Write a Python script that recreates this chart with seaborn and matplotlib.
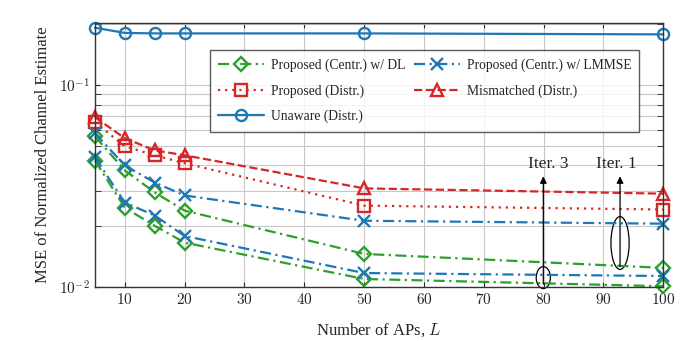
import numpy as np
import pandas as pd
import matplotlib
matplotlib.use('Agg')
import matplotlib.pyplot as plt
import seaborn as sns
from matplotlib.patches import Ellipse

# data
L = [5, 10, 15, 20, 50, 100]
dl_iter1 = [0.0557, 0.0378, 0.0294, 0.0239, 0.0146, 0.01245]
dl_iter3 = [0.0423, 0.0247, 0.0201, 0.0166, 0.01097, 0.0101]
lmmse_iter1 = [0.0577, 0.0400, 0.0329, 0.0284, 0.0213, 0.0206]
lmmse_iter3 = [0.0438, 0.0262, 0.0226, 0.0179, 0.01174, 0.01135]
distr = [0.0655, 0.0497, 0.0449, 0.0410, 0.0253, 0.0242]
mismatched = [0.0693, 0.0545, 0.0475, 0.0449, 0.0308, 0.0290]
unaware = [0.192, 0.181, 0.180, 0.180, 0.180, 0.178]

sns.set_style('ticks')
plt.rcParams['font.family'] = ['Liberation Serif', 'DejaVu Serif']
plt.rcParams['mathtext.fontset'] = 'cm'

green = '#2ca02c'
blue = '#1f77b4'
red = '#d62728'

fig, ax = plt.subplots(figsize=(6.88, 3.41), dpi=100)
fig.subplots_adjust(left=0.138, right=0.964, top=0.933, bottom=0.158)

dashdot = (0, (5, 2, 1, 2))


def draw(y, color, ls, marker, label=None, ms=8):
    sns.lineplot(x=L, y=y, color=color, linestyle=ls, marker=marker, ax=ax,
                 lw=1.6, markersize=ms, markerfacecolor='none',
                 markeredgecolor=color, markeredgewidth=1.7, clip_on=False,
                 label=label, legend=label is not None)


draw(dl_iter1, green, dashdot, 'D', 'Proposed (Centr.) w/ DL', ms=7)
draw(distr, red, (0, (1, 2.2)), 's', 'Proposed (Distr.)')
draw(unaware, blue, '-', 'o', 'Unaware (Distr.)')
draw(lmmse_iter1, blue, dashdot, 'x', 'Proposed (Centr.) w/ LMMSE')
draw(mismatched, red, '--', '^', 'Mismatched (Distr.)')
draw(dl_iter3, green, dashdot, 'D', ms=7)
draw(lmmse_iter3, blue, dashdot, 'x')

ax.set_yscale('log')
ax.set_xlim(5, 100)
ax.set_ylim(0.01, 0.203)
ax.set_xticks([10, 20, 30, 40, 50, 60, 70, 80, 90, 100])
ax.set_xticklabels([r'$%d$' % t for t in range(10, 101, 10)])
ax.set_yticks([0.01, 0.1])
ax.set_yticklabels([r'$10^{-2}$', r'$10^{-1}$'])
ax.grid(True, which='major', color='#c8c8c8', lw=0.8)
ax.grid(True, which='minor', axis='y', color='#c8c8c8', lw=0.8)
ax.tick_params(which='both', direction='in', top=True, right=True, labelsize=11)
ax.tick_params(which='minor', length=4)
for s in ax.spines.values():
    s.set_linewidth(1.0)
    s.set_color('#333333')

ax.set_xlabel(r'Number of APs, $L$', fontsize=12, labelpad=10)
ax.set_ylabel('MSE of Normalized Channel Estimate', fontsize=12, labelpad=6)

leg = ax.legend(ncol=2, loc='upper right', bbox_to_anchor=(0.97, 0.922),
                fontsize=9.8, frameon=True, fancybox=False, edgecolor='#333333',
                handlelength=3.4, columnspacing=0.6, handletextpad=0.5,
                borderpad=0.6, labelspacing=0.9)
leg.get_frame().set_linewidth(1.0)

# iteration annotations
ax.add_patch(Ellipse((0.789, 0.036), 0.025, 0.083, transform=ax.transAxes,
                     fill=False, ec='black', lw=0.9, clip_on=False))
ax.add_patch(Ellipse((0.924, 0.167), 0.032, 0.20, transform=ax.transAxes,
                     fill=False, ec='black', lw=0.9))
ax.annotate('', xy=(0.789, 0.43), xytext=(0.789, 0.0), xycoords='axes fraction',
            arrowprops=dict(arrowstyle='-|>', color='black', lw=0.9, mutation_scale=10))
ax.annotate('', xy=(0.924, 0.43), xytext=(0.924, 0.067), xycoords='axes fraction',
            arrowprops=dict(arrowstyle='-|>', color='black', lw=0.9, mutation_scale=10))
ax.text(0.797, 0.435, 'Iter. 3', transform=ax.transAxes, ha='center', va='bottom', fontsize=12.5)
ax.text(0.918, 0.435, 'Iter. 1', transform=ax.transAxes, ha='center', va='bottom', fontsize=12.5)

fig.savefig('out.png', dpi=100)
